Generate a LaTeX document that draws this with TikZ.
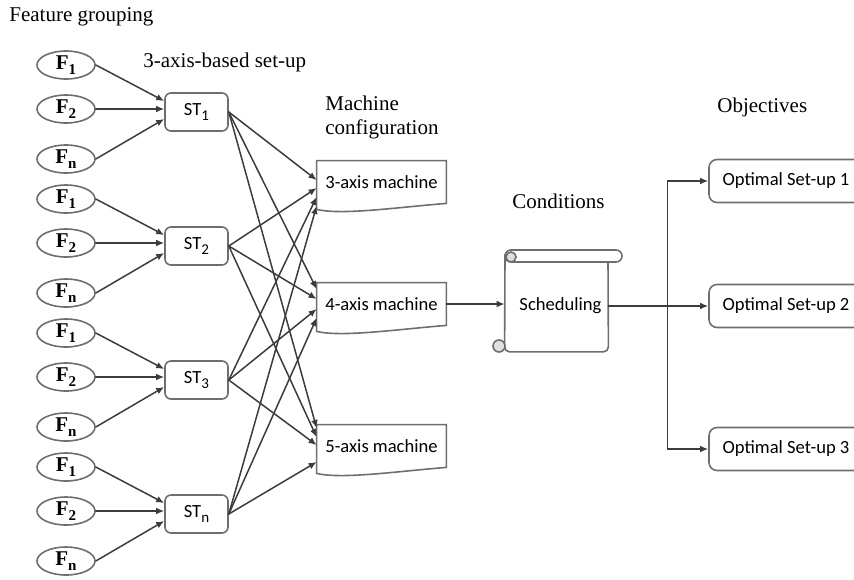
\documentclass[tikz,border=0pt]{standalone}
\usepackage{fontspec}
\setmainfont{Liberation Serif}
\newfontfamily\boxfont{Carlito}
\usetikzlibrary{shapes.geometric,arrows.meta,calc}
\definecolor{edgegray}{HTML}{3C3C3C}
\definecolor{boxgray}{HTML}{6E6E6E}
\newcommand{\lowsub}[1]{\raisebox{-0.55ex}{\fontsize{7.5}{8}\selectfont #1}}

\begin{document}
\begin{tikzpicture}[x=0.5pt,y=-0.5pt,line cap=round,
  feat/.style={ellipse,draw=boxgray,line width=0.8pt,minimum width=29pt,minimum height=14pt,inner sep=0pt,font=\fontsize{10.5}{12}\selectfont\bfseries},
  setup/.style={rectangle,draw=boxgray,line width=0.8pt,rounded corners=3pt,minimum width=31.5pt,minimum height=19pt,inner sep=0pt,font=\boxfont\fontsize{9.3}{11}\selectfont},
  mach/.style={rectangle,minimum width=64.5pt,minimum height=21pt,inner sep=0pt,font=\boxfont\fontsize{9.3}{11}\selectfont},
  goal/.style={rectangle,draw=boxgray,line width=0.8pt,rounded corners=4pt,minimum width=77pt,minimum height=21.5pt,inner sep=0pt,font=\boxfont\fontsize{9.3}{11}\selectfont},
  head/.style={anchor=west,inner sep=0pt,font=\fontsize{10.5}{12}\selectfont},
  link/.style={draw=edgegray,line width=0.75pt,-{Latex[length=4pt,width=3.4pt]}}]
\useasboundingbox (0,0) rectangle (854,579);
\clip (0,0) rectangle (854,579);
%% headings
\node[head] (hfeat) at (9,17) {Feature grouping};
\node[head] (hsetup) at (143,62) {3-axis-based set-up};
\node[head,align=left] (hmach) at (325,117) {Machine\\configuration};
\node[head] (hcond) at (512,201) {Conditions};
\node[head] (hobj) at (717,107) {Objectives};
%% feature groups and set-ups
\foreach \g/\dy/\idx in {1/0/1,2/134/2,3/268/3,4/402/n}{
  \node[feat] (fa\g) at (66,{65+\dy}) {F\lowsub{1}};
  \node[feat] (fb\g) at (66,{109+\dy}) {F\lowsub{2}};
  \node[feat] (fn\g) at (66,{159+\dy}) {F\lowsub{n}};
  \node[setup] (st\g) at (196.5,{112+\dy}) {ST\lowsub{\idx}};
  \draw[link] (fa\g.east) -- ($(st\g.west)+(0,-11)$);
  \draw[link] (fb\g.east) -- (fb\g.east -| st\g.west);
  \draw[link] (fn\g.east) -- ($(st\g.west)+(0,7)$);
}
%% machine configurations
\node[mach] (m3) at (381.5,182) {3-axis machine};
\node[mach] (m4) at (381.5,304) {4-axis machine};
\node[mach] (m5) at (381.5,446) {5-axis machine};
\foreach \m in {m3,m4,m5}
  \draw[boxgray,line width=0.8pt] (\m.north west) -- (\m.north east) -- (\m.south east)
    .. controls +(-50,4) and +(25,6) .. ($(\m.south west)+(0,6)$) -- cycle;
%% every set-up to every machine
\foreach \s/\ya/\yb/\yc in {1/-2/-15/-18,2/6/-5/-9,3/15/5/-1,4/24/14/16}{
  \draw[link] (st\s.east) -- ($(m3.west)+(0,\ya)$);
  \draw[link] (st\s.east) -- ($(m4.west)+(0,\yb)$);
  \draw[link] (st\s.east) -- ($(m5.west)+(0,\yc)$);
}
%% scheduling scroll
\node[rectangle,minimum width=51.5pt,minimum height=45.5pt,inner sep=0pt,
  font=\boxfont\fontsize{9.3}{11}\selectfont] (sched) at (556.5,306) {\hspace{4pt}Scheduling};
\draw[boxgray,line width=0.8pt,rounded corners=2.5pt] (505,255) -- (sched.south west) -- (sched.south east) -- (608,262);
\draw[boxgray,line width=0.8pt,rounded corners=3pt,fill=white] (505,250) rectangle (622,262);
\draw[boxgray,line width=0.8pt,fill=gray!25] (511,257) circle[radius=2.5pt];
\draw[boxgray,line width=0.8pt,fill=gray!25] (499,346) circle[radius=3pt];
\draw[link] (m4.east) -- (m4.east -| sched.west);
%% objectives
\node[goal] (opt1) at (786,181) {Optimal Set-up 1};
\node[goal] (opt2) at (786,306) {Optimal Set-up 2};
\node[goal] (opt3) at (786,449) {Optimal Set-up 3};
\coordinate (split) at ($(sched.east)!0.59!(opt2.west)$);
\draw[link] (sched.east) -- (opt2.west);
\draw[link] (split) |- (opt1.west);
\draw[link] (split) |- (opt3.west);
\end{tikzpicture}
\end{document}
